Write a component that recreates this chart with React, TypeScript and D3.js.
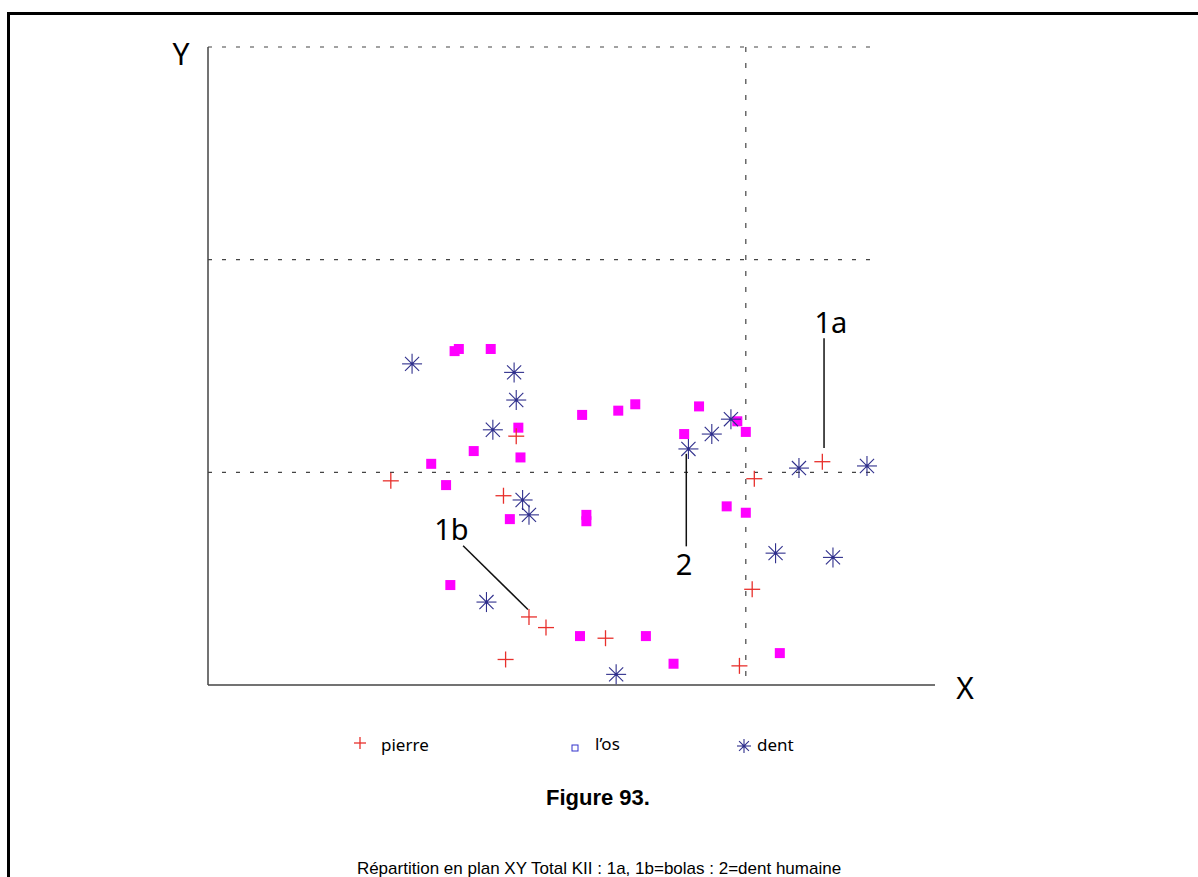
import React from "react";
import * as d3 from "d3";

// ---- data (metres in the excavation plan) ----
const pierreX = [1.33, 1.92, 1.86, 1.98, 2.06, 2.34, 1.87, 2.97, 3.03, 3.04, 3.36];
const pierreY = [0.96, 1.17, 0.89, 0.32, 0.27, 0.22, 0.12, 0.09, 0.45, 0.97, 1.05];

const dentX = [1.43, 1.91, 1.92, 1.81, 1.95, 1.98, 1.78, 2.39, 2.73, 2.84, 2.93, 3.25, 3.57, 3.14, 3.41];
const dentY = [1.51, 1.47, 1.34, 1.20, 0.87, 0.80, 0.39, 0.05, 1.11, 1.18, 1.25, 1.02, 1.03, 0.62, 0.60];

const osX = [1.63, 1.65, 1.80, 2.23, 2.40, 2.48, 1.93, 1.72, 1.94, 1.52, 1.59, 1.89, 2.25, 2.25,
  2.78, 2.71, 2.96, 3.00, 2.91, 3.00, 1.61, 2.22, 2.53, 2.66, 3.16];
const osY = [1.57, 1.58, 1.58, 1.27, 1.29, 1.32, 1.21, 1.10, 1.07, 1.04, 0.94, 0.78, 0.80, 0.77,
  1.31, 1.18, 1.24, 1.19, 0.84, 0.81, 0.47, 0.23, 0.23, 0.10, 0.15];

const gridYValues = [1, 2, 3];
const gridXValues = [3];

const annLabels = ["1a", "1b", "2"];
const annX1 = [3.368, 1.67, 2.72];
const annY1 = [1.63, 0.655, 1.087];
const annX2 = [3.368, 1.975, 2.72];
const annY2 = [1.114, 0.355, 0.652];
const annTextX = [3.40, 1.615, 2.71];
const annTextY = [1.655, 0.68, 0.515];

const legendLabels = ["pierre", "l\u2019os", "dent"];
const figureTitle = "Figure 93.";
const caption = "R\u00e9partition en plan XY Total KII : 1a, 1b=bolas : 2=dent humaine";

const W = 1198;
const H = 877;

const x = d3.scaleLinear().domain([0.47, 3.89]).range([208, 935]);
const y = d3.scaleLinear().domain([0, 3]).range([685, 47]);
const gridEnd = 3.6;

const RED = "#e8302c";
const NAVY = "#2f2f8c";
const MAG = "#ff00ff";
const labelFont = "'Noto Sans', 'Open Sans', sans-serif";

function Star({ cx, cy, r = 10 }: { cx: number; cy: number; r?: number }) {
  const a = Math.PI / 4;
  const dx = r * Math.cos(a);
  const dy = r * Math.sin(a);
  return (
    <g stroke={NAVY} strokeWidth={1.1} fill="none">
      <line x1={cx} y1={cy - r} x2={cx} y2={cy + r} />
      <line x1={cx - r} y1={cy} x2={cx + r} y2={cy} />
      <line x1={cx - dx} y1={cy - dy} x2={cx + dx} y2={cy + dy} />
      <line x1={cx - dx} y1={cy + dy} x2={cx + dx} y2={cy - dy} />
      <circle cx={cx} cy={cy} r={1.6} fill={NAVY} stroke="none" />
    </g>
  );
}

function Cross({ cx, cy, r = 8 }: { cx: number; cy: number; r?: number }) {
  return (
    <g stroke={RED} strokeWidth={1.3}>
      <line x1={cx - r} y1={cy} x2={cx + r} y2={cy} />
      <line x1={cx} y1={cy - r} x2={cx} y2={cy + r} />
    </g>
  );
}

export default function App() {
  const sq = 10;
  return (
    <svg
      width={W}
      height={H}
      viewBox={`0 0 ${W} ${H}`}
      style={{ position: "absolute", left: 0, top: 0, background: "#fff" }}
    >
      <rect x={0} y={0} width={W} height={H} fill="#fff" />
      {/* frame */}
      <line x1={7} y1={13.5} x2={W} y2={13.5} stroke="#000" strokeWidth={3} />
      <line x1={8.5} y1={12} x2={8.5} y2={H} stroke="#000" strokeWidth={3} />

      {/* dotted grid */}
      {gridYValues.map((v) => (
        <line key={"gy" + v} x1={x(0.47)} x2={x(gridEnd)} y1={y(v)} y2={y(v)}
          stroke="#444" strokeWidth={1.2} strokeDasharray="4,10" />
      ))}
      {gridXValues.map((v) => (
        <line key={"gx" + v} x1={x(v)} x2={x(v)} y1={y(3)} y2={y(0)}
          stroke="#444" strokeWidth={1.2} strokeDasharray="5,11" />
      ))}

      {/* axes */}
      <line x1={x(0.47)} x2={x(0.47)} y1={y(3)} y2={y(0)} stroke="#444" strokeWidth={1.5} />
      <line x1={x(0.47)} x2={x(3.89)} y1={y(0)} y2={y(0)} stroke="#444" strokeWidth={1.5} />
      <text x={181} y={65} fontFamily={labelFont} fontSize={30} textAnchor="middle" fill="#000">Y</text>
      <text x={965} y={699} fontFamily={labelFont} fontSize={30} textAnchor="middle" fill="#000">X</text>

      {/* annotations */}
      {annLabels.map((t, i) => (
        <g key={"a" + i}>
          <line x1={x(annX1[i])} y1={y(annY1[i])} x2={x(annX2[i])} y2={y(annY2[i])}
            stroke="#111" strokeWidth={1.5} />
          <text x={x(annTextX[i])} y={y(annTextY[i])} fontFamily={labelFont} fontSize={29}
            textAnchor="middle" fill="#000">{t}</text>
        </g>
      ))}

      {/* os squares */}
      {osX.map((v, i) => (
        <rect key={"o" + i} x={x(v) - sq / 2} y={y(osY[i]) - sq / 2} width={sq} height={sq} fill={MAG} />
      ))}
      {/* dent stars */}
      {dentX.map((v, i) => (
        <Star key={"d" + i} cx={x(v)} cy={y(dentY[i])} />
      ))}
      {/* pierre crosses */}
      {pierreX.map((v, i) => (
        <Cross key={"p" + i} cx={x(v)} cy={y(pierreY[i])} />
      ))}

      {/* legend */}
      <Cross cx={360} cy={743} r={6} />
      <text x={381} y={751} fontFamily={labelFont} fontSize={17} fill="#000">{legendLabels[0]}</text>
      <rect x={572} y={745} width={6} height={6} fill="none" stroke="#3333cc" strokeWidth={1} />
      <text x={595} y={750} fontFamily={labelFont} fontSize={17} fill="#000">{legendLabels[1]}</text>
      <Star cx={744} cy={746} r={7} />
      <text x={757} y={751} fontFamily={labelFont} fontSize={17} fill="#000">{legendLabels[2]}</text>

      {/* caption */}
      <text x={598} y={805} fontFamily="'Liberation Sans', Arial, sans-serif" fontWeight="bold"
        fontSize={22} textAnchor="middle" fill="#000">{figureTitle}</text>
      <text x={599} y={874} fontFamily="'Liberation Sans', Arial, sans-serif"
        fontSize={17} textAnchor="middle" fill="#000">{caption}</text>
    </svg>
  );
}
